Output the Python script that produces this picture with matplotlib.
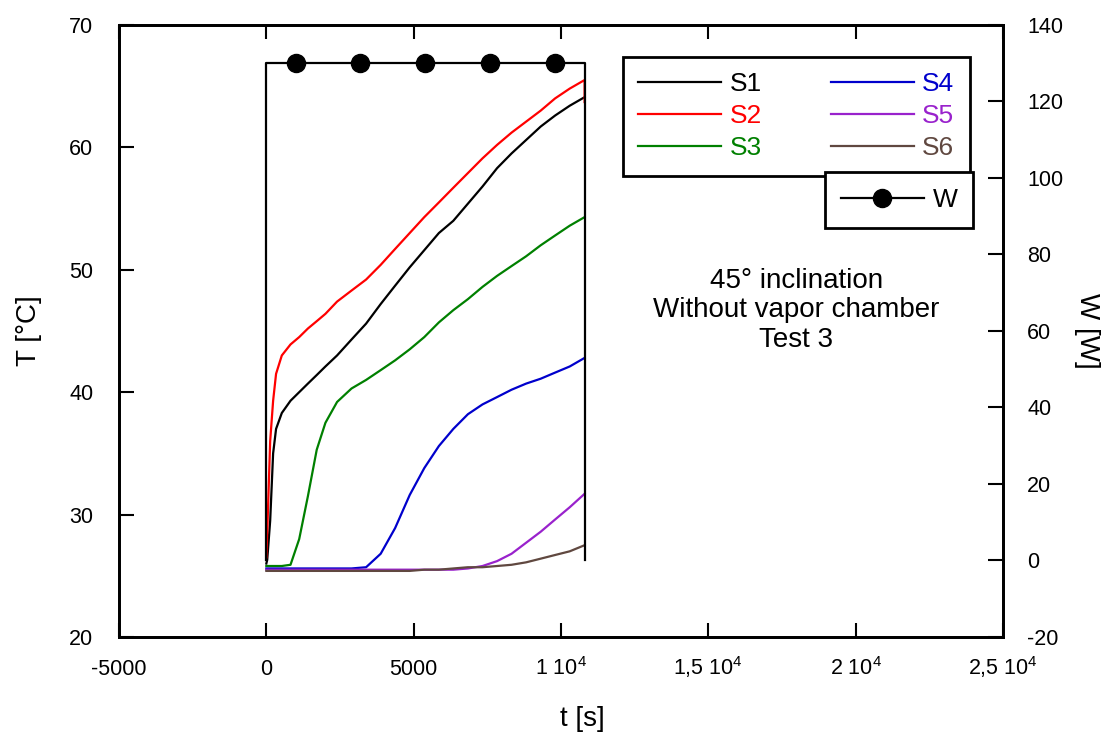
import numpy as np
import matplotlib as mpl
mpl.use('Agg')
import matplotlib.pyplot as plt

plt.rcParams['font.family'] = ['Liberation Sans', 'DejaVu Sans']
plt.rcParams['mathtext.fontset'] = 'custom'
plt.rcParams['mathtext.rm'] = 'Liberation Sans'
plt.rcParams['mathtext.default'] = 'regular'
plt.rcParams['axes.unicode_minus'] = False

# time grid [s] (last point repeated for the end drop of S2)
t = [0, 30, 130, 230, 330, 525, 820, 1115, 1410, 1710, 2005, 2400, 2890, 3385,
     3880, 4370, 4865, 5360, 5855, 6345, 6840, 7335, 7830, 8320, 8815, 9310,
     9800, 10295, 10800, 10800]

# sensor temperatures [°C]
s1 = [26.0, 26.3, 29.5, 35.0, 37.0, 38.3, 39.3, 40.0, 40.7, 41.4, 42.1, 43.0, 44.3, 45.6,
      47.2, 48.7, 50.2, 51.6, 53.0, 54.0, 55.4, 56.8, 58.3, 59.5, 60.6, 61.7,
      62.6, 63.4, 64.1, 64.1]
s2 = [26.5, 28.5, 36.0, 39.3, 41.5, 43.0, 43.9, 44.5, 45.2, 45.8, 46.4, 47.4, 48.3, 49.2,
      50.4, 51.7, 53.0, 54.3, 55.5, 56.7, 57.9, 59.1, 60.2, 61.2, 62.1, 63.0,
      64.0, 64.8, 65.5, 63.7]
s3 = [25.8, 25.8, 25.8, 25.8, 25.8, 25.8, 25.9, 28.0, 31.5, 35.3, 37.5, 39.2, 40.3, 41.0,
      41.8, 42.6, 43.5, 44.5, 45.7, 46.7, 47.6, 48.6, 49.5, 50.3, 51.1, 52.0,
      52.8, 53.6, 54.3, 54.3]
s4 = [25.6, 25.6, 25.6, 25.6, 25.6, 25.6, 25.6, 25.6, 25.6, 25.6, 25.6, 25.6, 25.6, 25.7,
      26.8, 28.9, 31.6, 33.8, 35.6, 37.0, 38.2, 39.0, 39.6, 40.2, 40.7, 41.1,
      41.6, 42.1, 42.8, 42.8]
s5 = [25.5, 25.5, 25.5, 25.5, 25.5, 25.5, 25.5, 25.5, 25.5, 25.5, 25.5, 25.5, 25.5, 25.5,
      25.5, 25.5, 25.5, 25.5, 25.5, 25.5, 25.6, 25.8, 26.2, 26.8, 27.7, 28.6,
      29.6, 30.6, 31.7, 31.7]
s6 = [25.4, 25.4, 25.4, 25.4, 25.4, 25.4, 25.4, 25.4, 25.4, 25.4, 25.4, 25.4, 25.4, 25.4,
      25.4, 25.4, 25.4, 25.5, 25.5, 25.6, 25.7, 25.7, 25.8, 25.9, 26.1, 26.4,
      26.7, 27.0, 27.5, 27.5]

# heating power [W]
t_w = [0, 0, 1010, 3190, 5400, 7600, 9790, 10800, 10800]
w = [0, 130, 130, 130, 130, 130, 130, 130, 0]

names = ['S1', 'S2', 'S3', 'S4', 'S5', 'S6']
colors = ['black', '#FF0000', '#008000', '#0000CC', '#9922CC', '#604840']

xticks = [-5000, 0, 5000, 10000, 15000, 20000, 25000]
xlabels = ['-5000', '0', '5000', '1 10$^{4}$', '1,5 10$^{4}$', '2 10$^{4}$', '2,5 10$^{4}$']

fig = plt.figure(figsize=(11.07, 7.42), dpi=100)
ax = fig.add_axes([0.1075, 0.1415, 0.7986, 0.8249])
ax2 = ax.twinx()

for y, c, n in zip([s1, s2, s3, s4, s5, s6], colors, names):
    ax.plot(t, y, color=c, lw=1.6, label=n)

ax2.plot(t_w, w, color='black', lw=1.6, marker='o', ms=13,
         markevery=[2, 3, 4, 5, 6], label='W')

ax.set_xlim(-5000, 25000)
ax.set_ylim(20, 70)
ax2.set_ylim(-20, 140)
ax.set_xticks(xticks)
ax.set_xticklabels(xlabels, va='baseline')
ax.set_yticks(range(20, 71, 10))
ax2.set_yticks(range(-20, 141, 20))

ax.tick_params(axis='x', direction='in', length=10, width=1.5, top=True,
               labelsize=15.5, pad=27)
ax.tick_params(axis='y', direction='in', length=11, width=1.5, right=False,
               labelsize=15.5, pad=18.5)
ax2.tick_params(axis='y', direction='in', length=11, width=1.5, labelsize=15.5, pad=17.5)
for a in (ax, ax2):
    for s in a.spines.values():
        s.set_linewidth(2)

ax.set_xlabel('t [s]', fontsize=20)
ax.xaxis.set_label_coords(0.524, -0.112)
ax.set_ylabel('T [°C]', fontsize=20)
ax.yaxis.set_label_coords(-0.087, 0.5)
ax2.set_ylabel('W [W]', fontsize=20, rotation=270, va='center')
ax2.yaxis.set_label_coords(1.095, 0.5)

ax.text(0.766, 0.534, '45° inclination\nWithout vapor chamber\nTest 3',
        transform=ax.transAxes, ha='center', va='center', fontsize=20,
        linespacing=1.18)

leg = ax.legend(ncol=2, loc='upper left',
                bbox_to_anchor=(622.5 / 1107, 1 - 56.5 / 742),
                bbox_transform=fig.transFigure, fontsize=19,
                labelcolor='linecolor', handlelength=3.15, handletextpad=0.32,
                columnspacing=2.6, labelspacing=0.3, borderpad=0.6,
                borderaxespad=0, fancybox=False, framealpha=1, edgecolor='black')
leg.get_frame().set_linewidth(2)

leg2 = ax2.legend(loc='upper left', bbox_to_anchor=(825 / 1107, 1 - 172 / 742),
                  bbox_transform=fig.transFigure, fontsize=19,
                  handlelength=3.15, handletextpad=0.32, borderpad=0.6,
                  borderaxespad=0, fancybox=False, framealpha=1, edgecolor='black')
leg2.get_frame().set_linewidth(2)

fig.savefig('out.png', dpi=100)
